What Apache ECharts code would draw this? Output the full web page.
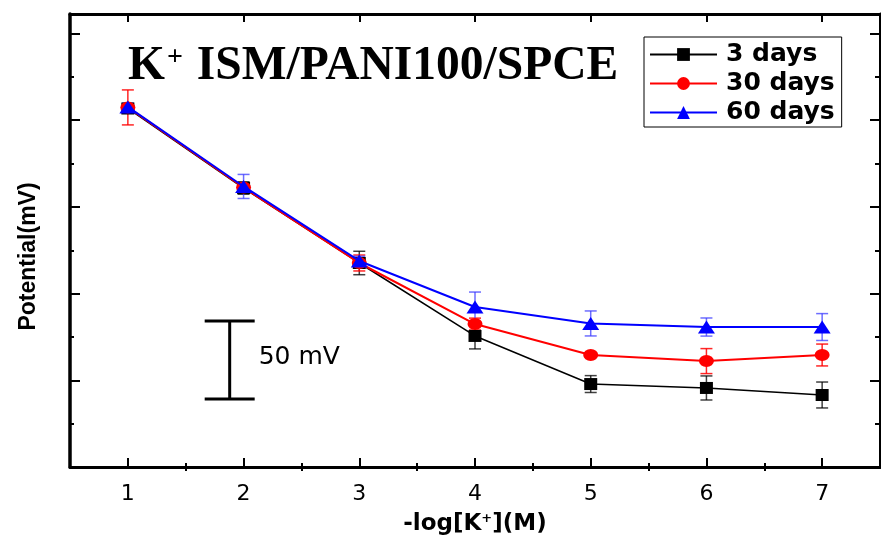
<!DOCTYPE html>
<html>
<head>
<meta charset="utf-8">
<title>K+ ISM/PANI100/SPCE</title>
<script src="https://cdn.jsdelivr.net/npm/echarts@6/dist/echarts.min.js"></script>
<style>
  html, body { margin: 0; padding: 0; background: #fff; }
  #chart { width: 881px; height: 540px; }
</style>
</head>
<body>
<div id="chart"></div>
<script>
// -log[K+] concentrations on the x axis
const concentrations = [1, 2, 3, 4, 5, 6, 7];
const xTickLabels = [1, 2, 3, 4, 5, 6, 7];

// Mean potential (mV, relative) and standard deviation after storage
const seriesNames = ['3 days', '30 days', '60 days'];
const potential3d  = [229.5, 178.6, 130.6, 83.9, 53.1, 50.6, 46.1];
const error3d      = [3.0, 4.0, 7.5, 8.3, 5.4, 7.7, 8.3];
const potential30d = [230.2, 178.9, 130.6, 91.5, 71.7, 67.8, 71.7];
const error30d     = [11.2, 3.0, 5.1, 3.8, 1.5, 8.0, 7.0];
const potential60d = [230.5, 179.6, 131.9, 102.4, 91.9, 89.6, 89.6];
const error60d     = [2.5, 7.7, 3.0, 9.6, 8.0, 5.8, 8.6];

// Scale bar standing in for the unlabeled potential axis
const scaleBarSpan = 50;

// Axis ranges (potential axis carries no labels)
const X_MIN = 0.5, X_MAX = 7.5;
const Y_MIN = 0, Y_MAX = 290, Y_STEP = 55.5;
const SCALE_X = 1.88, SCALE_BASE = 43.5;

const xMinorTicks = xTickLabels.slice(0, -1).map(v => v + 0.5);
const yMajorTicks = [], yMinorTicks = [];
for (let v = Y_MIN; v <= Y_MAX; v += Y_STEP) {
  yMajorTicks.push(v);
  if (v + Y_STEP / 2 < Y_MAX) yMinorTicks.push(v + Y_STEP / 2);
}

const colors = ['#000000', '#ff0000', '#0000ff'];
const errColors = ['rgba(0,0,0,0.75)', 'rgba(255,0,0,0.85)', 'rgba(60,60,255,0.75)'];
const means = [potential3d, potential30d, potential60d];
const errors = [error3d, error30d, error60d];
const symbols = ['rect', 'circle', 'triangle'];
const symbolSizes = [[13, 12], [15, 12], [17, 13]];
const lineWidths = [1.5, 2, 2];

const chart = echarts.init(document.getElementById('chart'), null, { renderer: 'canvas' });

function frameAxis(extra) {
  return Object.assign({
    type: 'value',
    splitLine: { show: false },
    axisLine: { show: true, onZero: false, lineStyle: { color: '#000', width: 3 } },
    axisLabel: { show: false },
    axisTick: { show: true, inside: true, length: 9, lineStyle: { color: '#000', width: 2 } }
  }, extra);
}

const xAxes = [
  frameAxis({
    min: X_MIN, max: X_MAX, position: 'bottom',
    axisTick: { show: true, inside: true, length: 9, customValues: xTickLabels, lineStyle: { color: '#000', width: 2 } },
    axisLabel: { show: true, customValues: xTickLabels, margin: 16, color: '#000',
      fontFamily: 'DejaVu Sans', fontSize: 22 },
    name: '-log[K{sup|+}](M)', nameLocation: 'middle', nameGap: 45,
    nameTextStyle: { color: '#000', fontFamily: 'DejaVu Sans', fontWeight: 'bold', fontSize: 23,
      rich: { sup: { fontFamily: 'DejaVu Sans', fontWeight: 'bold', fontSize: 13, padding: [0, 0, 12, 0] } } }
  }),
  frameAxis({ min: X_MIN, max: X_MAX, position: 'bottom', axisLine: { show: false },
    axisTick: { show: true, inside: true, length: 4, customValues: xMinorTicks, lineStyle: { color: '#000', width: 2 } } }),
  frameAxis({ min: X_MIN, max: X_MAX, position: 'top',
    axisTick: { show: true, inside: true, length: 8, customValues: xTickLabels, lineStyle: { color: '#000', width: 2 } } }),
  frameAxis({ min: X_MIN, max: X_MAX, position: 'top', axisLine: { show: false },
    axisTick: { show: true, inside: true, length: 4, customValues: xMinorTicks, lineStyle: { color: '#000', width: 2 } } })
];

const yAxes = [
  frameAxis({ min: Y_MIN, max: Y_MAX, position: 'left',
    axisLine: { show: true, onZero: false, lineStyle: { color: '#000', width: 3.5 } },
    axisTick: { show: true, inside: true, length: 10, customValues: yMajorTicks, lineStyle: { color: '#000', width: 2 } },
    name: 'Potential(mV)', nameLocation: 'middle', nameGap: 30,
    nameTextStyle: { color: '#000', fontFamily: 'Liberation Sans', fontWeight: 'bold', fontSize: 23, padding: [0, 32, 0, 0] } }),
  frameAxis({ min: Y_MIN, max: Y_MAX, position: 'left', axisLine: { show: false },
    axisTick: { show: true, inside: true, length: 4, customValues: yMinorTicks, lineStyle: { color: '#000', width: 2 } } }),
  frameAxis({ min: Y_MIN, max: Y_MAX, position: 'right',
    axisTick: { show: true, inside: true, length: 10, customValues: yMajorTicks, lineStyle: { color: '#000', width: 2 } } }),
  frameAxis({ min: Y_MIN, max: Y_MAX, position: 'right', axisLine: { show: false },
    axisTick: { show: true, inside: true, length: 5, customValues: yMinorTicks, lineStyle: { color: '#000', width: 2 } } })
];

// Vertical error bars with caps
function errorBarSeries(i) {
  return {
    type: 'custom',
    name: seriesNames[i] + ' error',
    xAxisIndex: 0, yAxisIndex: 0,
    z: 2,
    silent: true,
    data: concentrations.map((x, k) => [x, means[i][k] - errors[i][k], means[i][k] + errors[i][k]]),
    renderItem: function (params, api) {
      const lo = api.coord([api.value(0), api.value(1)]);
      const hi = api.coord([api.value(0), api.value(2)]);
      const hw = 6;
      const style = { stroke: errColors[i], lineWidth: 1.5 };
      return {
        type: 'group',
        children: [
          { type: 'line', shape: { x1: lo[0], y1: lo[1], x2: hi[0], y2: hi[1] }, style },
          { type: 'line', shape: { x1: lo[0] - hw, y1: lo[1], x2: lo[0] + hw, y2: lo[1] }, style },
          { type: 'line', shape: { x1: hi[0] - hw, y1: hi[1], x2: hi[0] + hw, y2: hi[1] }, style }
        ]
      };
    }
  };
}

const lineSeries = seriesNames.map((name, i) => ({
  type: 'line',
  name: name,
  xAxisIndex: 0, yAxisIndex: 0,
  z: 3 + i,
  data: concentrations.map((x, k) => [x, means[i][k]]),
  symbol: symbols[i],
  symbolSize: symbolSizes[i],
  showAllSymbol: true,
  lineStyle: { color: colors[i], width: lineWidths[i] },
  itemStyle: { color: colors[i] },
  emphasis: { disabled: true },
  animation: false
}));

// Scale bar: vertical bar spanning scaleBarSpan mV with its label
const scaleBar = {
  type: 'custom',
  name: 'scale',
  xAxisIndex: 0, yAxisIndex: 0,
  z: 2,
  silent: true,
  data: [[SCALE_X, SCALE_BASE, SCALE_BASE + scaleBarSpan]],
  renderItem: function (params, api) {
    const lo = api.coord([api.value(0), api.value(1)]);
    const hi = api.coord([api.value(0), api.value(2)]);
    const hw = 25;
    const style = { stroke: '#000', lineWidth: 3 };
    return {
      type: 'group',
      children: [
        { type: 'line', shape: { x1: lo[0], y1: lo[1], x2: hi[0], y2: hi[1] }, style },
        { type: 'line', shape: { x1: lo[0] - hw, y1: lo[1], x2: lo[0] + hw, y2: lo[1] }, style },
        { type: 'line', shape: { x1: hi[0] - hw, y1: hi[1], x2: hi[0] + hw, y2: hi[1] }, style },
        { type: 'text', x: lo[0] + 29, y: (lo[1] + hi[1]) / 2 - 2,
          style: { text: scaleBarSpan + ' mV', fill: '#000', font: '25px "DejaVu Sans"',
            verticalAlign: 'middle', align: 'left' } }
      ]
    };
  }
};

chart.setOption({
  animation: false,
  backgroundColor: '#fff',
  title: {
    text: '{main|K}{sup|+}{main| ISM/PANI100/SPCE}',
    left: 123, top: 38,
    textStyle: {
      rich: {
        main: { fontFamily: 'Liberation Serif', fontWeight: 'bold', fontSize: 47.5, color: '#000' },
        sup: { fontFamily: 'Liberation Serif', fontWeight: 'bold', fontSize: 28, color: '#000', padding: [0, 2, 18, 2] }
      }
    }
  },
  legend: {
    data: seriesNames,
    orient: 'vertical',
    left: 644, top: 37,
    padding: [5, 7, 2, 5],
    itemGap: 4,
    itemWidth: 67, itemHeight: 16,
    borderColor: '#000', borderWidth: 1, borderRadius: 0,
    backgroundColor: '#fff',
    textStyle: { fontFamily: 'DejaVu Sans', fontWeight: 'bold', fontSize: 25, color: '#000', padding: [0, 0, 0, 4] },
    selectedMode: false
  },
  grid: { left: 70, right: 1, top: 14, bottom: 73, containLabel: false, outerBoundsMode: 'none' },
  xAxis: xAxes,
  yAxis: yAxes,
  series: [errorBarSeries(0), errorBarSeries(1), errorBarSeries(2)].concat(lineSeries, [scaleBar])
});
</script>
</body>
</html>
